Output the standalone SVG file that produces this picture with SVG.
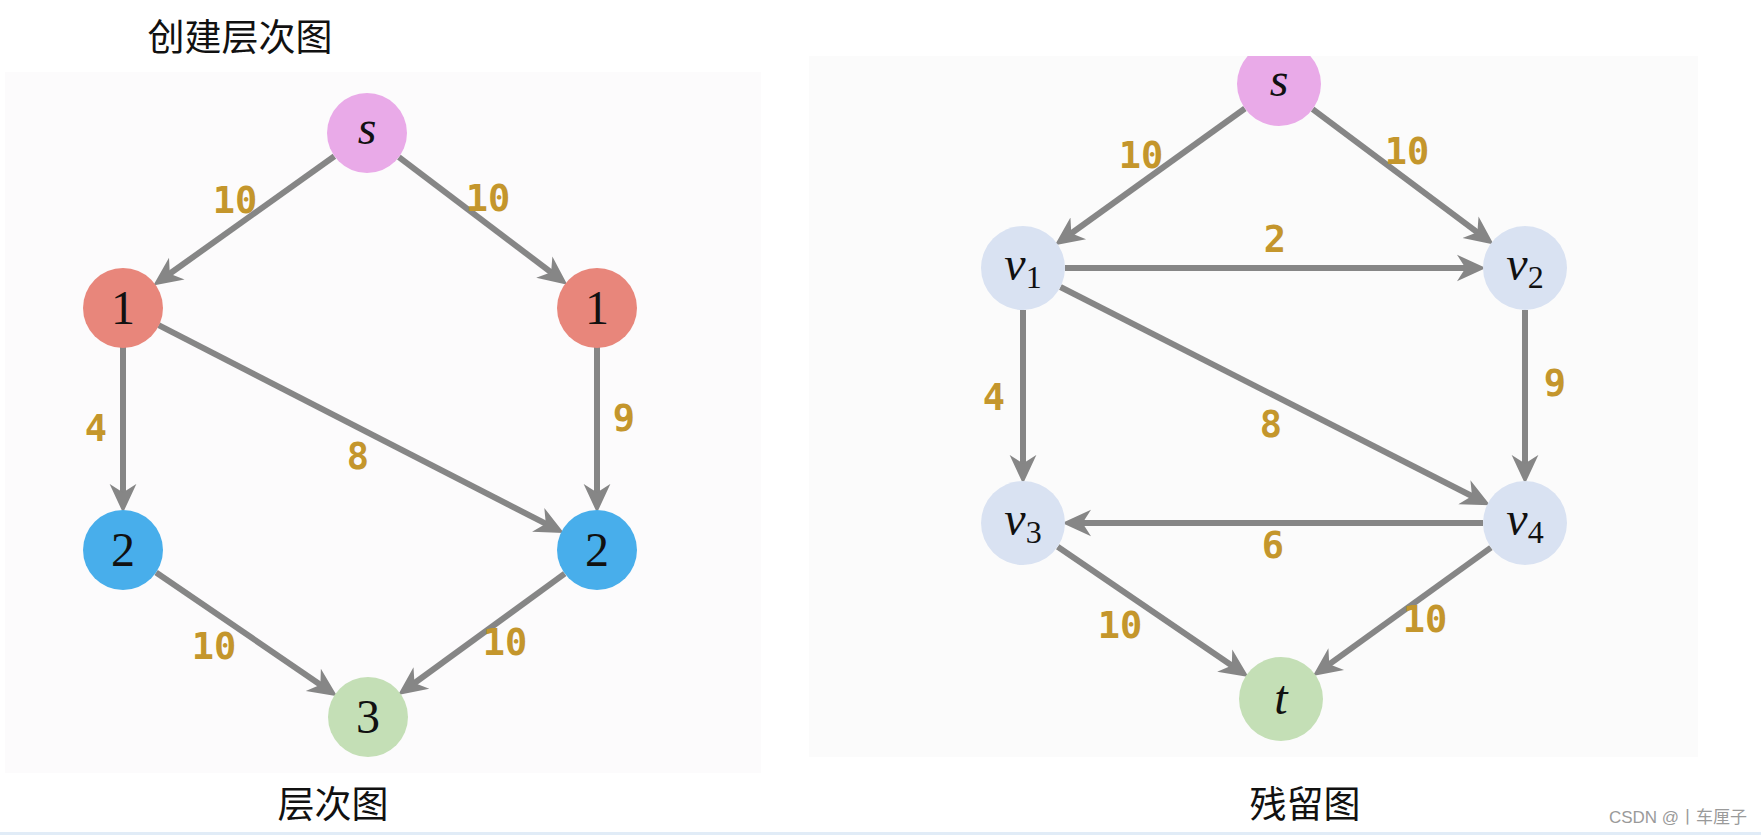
<svg xmlns="http://www.w3.org/2000/svg" width="1761" height="835" viewBox="0 0 1761 835">
<style>
.edge{stroke:#868686;stroke-width:6;fill:none;marker-end:url(#arr)}
.lbl{font-family:"DejaVu Sans Mono",monospace;font-weight:bold;font-size:37px;fill:#c4962c;text-anchor:middle}
.nt{font-family:"Liberation Serif",serif;font-size:48px;fill:#111;text-anchor:middle}
.cap{font-family:"Noto Sans CJK SC",sans-serif;font-size:37px;fill:#111;text-anchor:middle}
.pink{fill:#e9aae8}.red{fill:#e8867b}.blue{fill:#48aeeb}.green{fill:#c4dfb6}.lav{fill:#d9e2f2}
</style>
<defs>
<marker id="arr" markerUnits="userSpaceOnUse" markerWidth="30" markerHeight="30" refX="15" refY="13" orient="auto" viewBox="0 0 28 26">
<path d="M0,0.5 L27,13 L0,25.5 L8,13 Z" fill="#868686"/>
</marker>
<clipPath id="rclip"><rect x="809" y="56" width="889" height="701"/></clipPath>
</defs>
<rect width="1761" height="835" fill="#ffffff"/>
<rect x="0" y="832" width="1761" height="3" fill="#e1ecf7"/>
<text class="cap" x="240" y="51">创建层次图</text>
<text class="cap" x="333" y="818">层次图</text>
<text class="cap" x="1305" y="818">残留图</text>
<text x="1678" y="823" font-family="'Liberation Sans','Noto Sans CJK SC',sans-serif" font-size="17" fill="#9a9a9a" text-anchor="middle">CSDN @丨车厘子</text>

<rect id="left-panel" x="5" y="72" width="756" height="701" fill="#fcfbfc"/>
<rect id="right-panel" x="809" y="56" width="889" height="701" fill="#fbfbfb"/>

<g id="connectors">
<line class="edge" x1="334.4" y1="156.2" x2="163.7" y2="278"/>
<line class="edge" x1="398.9" y1="157.1" x2="557.1" y2="276.9"/>
<line class="edge" x1="123" y1="347" x2="123" y2="500"/>
<line class="edge" x1="597" y1="347" x2="597" y2="500"/>
<line class="edge" x1="158.6" y1="325.2" x2="552.5" y2="527.2"/>
<line class="edge" x1="156.1" y1="572.5" x2="326.6" y2="688.9"/>
<line class="edge" x1="564.7" y1="573.6" x2="408.4" y2="687.5"/>

<line class="edge" x1="1244.9" y1="108.5" x2="1065.2" y2="237.7"/>
<line class="edge" x1="1312.6" y1="109.2" x2="1483.4" y2="236.8"/>
<line class="edge" x1="1065" y1="268" x2="1473" y2="268"/>
<line class="edge" x1="1060.4" y1="287" x2="1478.7" y2="499.5"/>
<line class="edge" x1="1023" y1="310" x2="1023" y2="471"/>
<line class="edge" x1="1525" y1="310" x2="1525" y2="471"/>
<line class="edge" x1="1483" y1="523" x2="1075" y2="523"/>
<line class="edge" x1="1057.7" y1="546.7" x2="1238" y2="669.7"/>
<line class="edge" x1="1490.9" y1="547.6" x2="1323.2" y2="668.6"/>

<text class="lbl" x="235" y="213">10</text>
<text class="lbl" x="488" y="211">10</text>
<text class="lbl" x="96" y="441">4</text>
<text class="lbl" x="624" y="431">9</text>
<text class="lbl" x="358" y="469">8</text>
<text class="lbl" x="214" y="659">10</text>
<text class="lbl" x="505" y="655">10</text>

<text class="lbl" x="1141" y="168">10</text>
<text class="lbl" x="1407" y="164">10</text>
<text class="lbl" x="1275" y="252">2</text>
<text class="lbl" x="994" y="410">4</text>
<text class="lbl" x="1555" y="396">9</text>
<text class="lbl" x="1271" y="437">8</text>
<text class="lbl" x="1273" y="558">6</text>
<text class="lbl" x="1120" y="638">10</text>
<text class="lbl" x="1425" y="632">10</text>
</g>

<g id="L-s"><circle class="pink" cx="367" cy="133" r="40"/><text class="nt" x="367" y="144" font-style="italic">s</text></g>
<g id="L-1a"><circle class="red" cx="123" cy="308" r="40"/><text class="nt" x="123" y="324">1</text></g>
<g id="L-1b"><circle class="red" cx="597" cy="308" r="40"/><text class="nt" x="597" y="324">1</text></g>
<g id="L-2a"><circle class="blue" cx="123" cy="550" r="40"/><text class="nt" x="123" y="566">2</text></g>
<g id="L-2b"><circle class="blue" cx="597" cy="550" r="40"/><text class="nt" x="597" y="566">2</text></g>
<g id="L-3"><circle class="green" cx="368" cy="717" r="40"/><text class="nt" x="368" y="733">3</text></g>

<g id="R-s" clip-path="url(#rclip)"><circle class="pink" cx="1279" cy="84" r="42"/><text class="nt" x="1279" y="96" font-style="italic">s</text></g>
<g id="R-v1"><circle class="lav" cx="1023" cy="268" r="42"/><text class="nt" x="1023" y="280"><tspan font-style="italic">v</tspan><tspan font-size="32" dy="8">1</tspan></text></g>
<g id="R-v2"><circle class="lav" cx="1525" cy="268" r="42"/><text class="nt" x="1525" y="280"><tspan font-style="italic">v</tspan><tspan font-size="32" dy="8">2</tspan></text></g>
<g id="R-v3"><circle class="lav" cx="1023" cy="523" r="42"/><text class="nt" x="1023" y="535"><tspan font-style="italic">v</tspan><tspan font-size="32" dy="8">3</tspan></text></g>
<g id="R-v4"><circle class="lav" cx="1525" cy="523" r="42"/><text class="nt" x="1525" y="535"><tspan font-style="italic">v</tspan><tspan font-size="32" dy="8">4</tspan></text></g>
<g id="R-t"><circle class="green" cx="1281" cy="699" r="42"/><text class="nt" x="1281" y="714" font-style="italic">t</text></g>
</svg>
